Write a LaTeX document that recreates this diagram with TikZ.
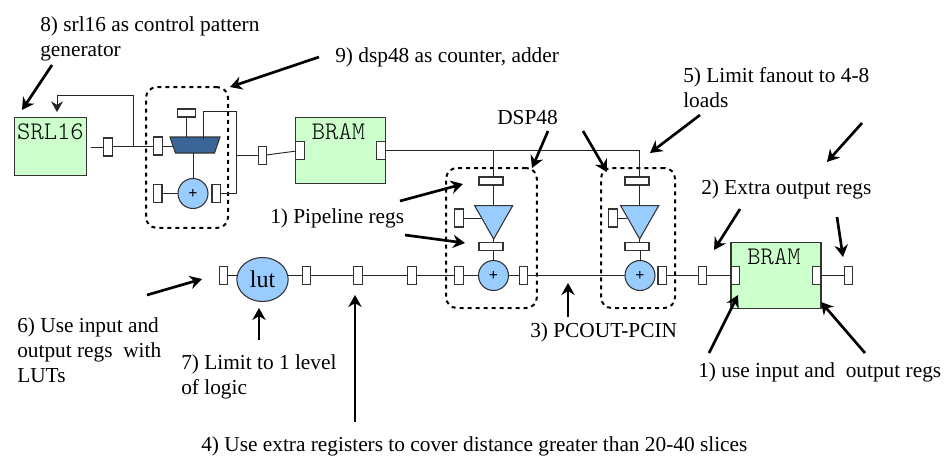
\documentclass[tikz,border=0pt]{standalone}
\usepackage{fontspec}
\setmainfont{Liberation Serif}
\usetikzlibrary{positioning,arrows.meta,shapes.geometric}
\definecolor{blockgreen}{HTML}{CCFFCC}
\definecolor{addblue}{HTML}{99CCFF}
\definecolor{muxblue}{HTML}{3B6596}
\begin{document}
\begin{tikzpicture}[x=0.75pt,y=-0.75pt,
  block/.style={draw=black!80, line width=0.8pt, fill=blockgreen, inner sep=0pt, outer sep=0pt},
  blocktext/.style={font=\ttfamily\fontseries{l}\fontsize{19}{19}\selectfont, inner sep=0pt},
  bramtext/.style={blocktext, font=\ttfamily\fontseries{l}\fontsize{19}{19}\selectfont\addfontfeature{LetterSpace=27}, xshift=-1.5pt},
  regv/.style={draw=black!80, line width=0.8pt, fill=white, inner sep=0pt, outer sep=0pt, minimum width=6.5pt, minimum height=13.5pt},
  regh/.style={draw=black!80, line width=0.8pt, fill=white, inner sep=0pt, outer sep=0pt, minimum width=18pt, minimum height=6pt},
  addr/.style={circle, draw=black!80, line width=0.8pt, fill=addblue, inner sep=0pt, outer sep=0pt, minimum size=22.5pt, font=\bfseries\fontsize{12}{12}\selectfont},
  amp/.style={isosceles triangle, isosceles triangle stretches, shape border rotate=-90, draw=black!80, line width=0.8pt, fill=addblue, inner sep=1pt, outer sep=0pt, minimum width=28.5pt, minimum height=25pt},
  dspbox/.style={draw, dashed, line width=1.5pt, rounded corners=8pt, inner sep=0pt},
  note/.style={anchor=north west, inner sep=0pt, align=left, font=\fontsize{16}{19}\selectfont},
  wire/.style={line width=0.7pt, black!85},
  arr/.style={-{Stealth[length=9pt,width=10pt]}, line width=2pt}]
\useasboundingbox (0,0) rectangle (945,455);
% top row
\node[block, minimum width=54.5pt, minimum height=44pt] (srl) at (50.5,146.5) {};
\node[blocktext, below=4.5pt of srl.north] (srltext) {SRL16};
\node[regv] (regsrl) at (108,147) {};
\node[regv] (regmuxin) at (158,146) {};
\node[regh, minimum width=14pt] (regsel) at (186.5,113) {};
\node[trapezium, trapezium stretches=true, shape border rotate=180, trapezium left angle=82, trapezium right angle=82, draw=black!80, line width=0.8pt, fill=muxblue, inner sep=1pt, outer sep=0pt, minimum width=37.5pt, minimum height=12pt] (mux) at (195,145) {};
\node[addr] (addcnt) at (193,193.5) {+};
\node[regv, left=12pt of addcnt] (regcnta) {};
\node[regv, right=3pt of addcnt] (regcntb) {};
\node[dspbox, minimum width=61.5pt, minimum height=105.5pt] (dspcnt) at (187,157.5) {};
\node[regv] (regbram) at (262.5,155.5) {};
\node[block, minimum width=67pt, minimum height=50pt] (brama) at (340.5,150.5) {};
\node[bramtext, below=4.5pt of brama.north] (bramatext) {BRAM};
\node[regv, anchor=west] (bramain) at (brama.west) {};
\node[regv, anchor=east] (bramaout) at (brama.east) {};
% first dsp48
\node[regh] (regpa) at (491,181) {};
\node[amp, below=15.5pt of regpa, xshift=2pt] (ampa) {};
\node[regv] (regca) at (459,218) {};
\node[regh, below=2.5pt of ampa.south, xshift=-2pt] (regma) {};
\node[addr] (adda) at (493.5,275.5) {+};
\node[regv, left=11.5pt of adda] (regaa) {};
\node[regv, right=8pt of adda] (regab) {};
\node[dspbox, minimum width=68pt, minimum height=105pt] (dspa) at (491.5,238) {};
% second dsp48
\node[regh] (regpb) at (637,181) {};
\node[amp, below=15.5pt of regpb, xshift=2pt] (ampb) {};
\node[regv] (regcb) at (613,218) {};
\node[regh, below=2.5pt of ampb.south, xshift=-2pt] (regmb) {};
\node[addr] (addb) at (640,275.5) {+};
\node[regv, right=2.25pt of addb] (regbb) {};
\node[dspbox, minimum width=55.5pt, minimum height=105pt] (dspb) at (638,238) {};
% bottom row
\node[regv] (reglut) at (223.5,275.5) {};
\node[ellipse, draw=black!80, line width=0.8pt, fill=addblue, inner sep=0pt, outer sep=0pt, minimum width=38.5pt, minimum height=33pt, font=\fontsize{18}{18}\selectfont] (lut) at (262.5,279.5) {lut};
\node[regv] (regrouta) at (306.5,275.5) {};
\node[regv, right=32pt of regrouta] (regroutb) {};
\node[regv, right=34pt of regroutb] (regroutc) {};
\node[regv] (regout) at (702.5,275.5) {};
\node[block, minimum width=67.5pt, minimum height=49pt] (bramb) at (776,275.5) {};
\node[bramtext, below=4.5pt of bramb.north] (brambtext) {BRAM};
\node[regv, anchor=west, yshift=0pt] (brambin) at (bramb.west) {};
\node[regv, anchor=east] (brambout) at (bramb.east) {};
\node[regv] (regend) at (848.5,275.5) {};
% wires
\coordinate (srlout) at (91,147);
\coordinate (fbk) at (133,146.5);
\coordinate (fbktop) at (57,95);
\coordinate (fbktip) at (57,112);
\coordinate (muxfb) at (203,139);
\coordinate (muxtop) at (236,111);
\coordinate (muxjoin) at (236,155.5);
\draw[wire] (srlout) -- (regsrl);
\draw[wire] (regsrl.east) -- (regsrl.east |- regmuxin) -- (regmuxin);
\draw[wire, -{Stealth[length=8pt,width=9pt]}] (fbk) |- (fbktop) -- (fbktip);
\draw[wire] (regmuxin) -- (mux.west |- regmuxin);
\draw[wire] (regsel) -- (regsel |- mux.north);
\draw[wire] (muxfb) |- (muxtop) |- (regcntb.east);
\draw[wire] (muxjoin) -- (regbram);
\draw[wire] (regbram) -- (bramain);
\draw[wire] (mux.south -| addcnt) -- (addcnt);
\draw[wire] (regcnta) -- (addcnt);
\draw[wire] (bramaout.east) -| (regpb.north -| ampb);
\draw[wire] (regpa.north -| ampa) -- (ampa |- bramaout);
\draw[wire] (regpa.south -| ampa) -- (ampa.north);
\draw[wire] (regpb.south -| ampb) -- (ampb.north);
\draw[wire] (regca.east) -- (ampa.west |- regca);
\draw[wire] (regcb.east) -- (ampb.west |- regcb);
\draw[wire] (regaa) -- (adda);
\draw[wire] (adda) -- (regab);
\draw[wire] (regma.south -| adda) -- (adda);
\draw[wire] (regmb.south -| addb) -- (addb);
\draw[wire] (ampa.south) -- (regma.north -| ampa);
\draw[wire] (ampb.south) -- (regmb.north -| ampb);
\draw[wire] (regab) -- (addb);
\draw[wire] (regbb) -- (regout);
\draw[wire] (regout) -- (brambin);
\draw[wire] (brambout) -- (regend);
\draw[wire] (reglut) -- (lut.west |- reglut);
\draw[wire] (lut.east |- regrouta) -- (regrouta);
\draw[wire] (regrouta) -- (regroutb);
\draw[wire] (regroutb) -- (regroutc);
\draw[wire] (regroutc) -- (regaa);
% labels
\node[note] (notesrl) at (40,16) {8) srl16 as control pattern\\generator};
\node[note] (notecnt) at (335,47) {9) dsp48 as counter, adder};
\node[note] (notedsp) at (497,110) {DSP48};
\node[note] (notefan) at (683,67) {5) Limit fanout to 4-8\\loads};
\node[note] (noteextra) at (701,179) {2) Extra output regs};
\node[note] (notepipe) at (270,208) {1) Pipeline regs};
\node[note] (notepc) at (530,322) {3) PCOUT-PCIN};
\node[note] (noteio) at (698,362) {1) use input and\ \ output regs};
\node[note] (notelut) at (17,317) {6) Use input and\\output regs\ \ with\\LUTs};
\node[note] (notelvl) at (181,354) {7) Limit to 1 level\\of logic};
\node[note] (notedist) at (201,436) {4) Use extra registers to cover distance greater than 20-40 slices};
% callout arrows
\coordinate (asrla) at (52,65);   \coordinate (asrlb) at (22,110);
\coordinate (acnta) at (319,57);  \coordinate (acntb) at (230,87);
\coordinate (adspa) at (548,131); \coordinate (adspb) at (532,168);
\coordinate (adspc) at (583,131); \coordinate (adspd) at (607,172);
\coordinate (afana) at (700,115); \coordinate (afanb) at (650,153);
\coordinate (afanc) at (862,123); \coordinate (afand) at (827,162);
\coordinate (aouta) at (740,209); \coordinate (aoutb) at (714,250);
\coordinate (aoutc) at (837,217); \coordinate (aoutd) at (843,257);
\coordinate (aioa) at (709,353);  \coordinate (aiob) at (738,295);
\coordinate (aioc) at (865,353);  \coordinate (aiod) at (821,302);
\coordinate (apipa) at (400,201); \coordinate (apipb) at (463,184);
\coordinate (apipc) at (405,235); \coordinate (apipd) at (465,243);
\coordinate (apca) at (568,317);  \coordinate (apcb) at (568,283);
\coordinate (aluta) at (147,295); \coordinate (alutb) at (202,279);
\coordinate (alvla) at (259,340); \coordinate (alvlb) at (259,308);
\coordinate (adista) at (355,422);\coordinate (adistb) at (355,295);
\draw[arr] (asrla) -- (asrlb);
\draw[arr] (acnta) -- (acntb);
\draw[arr] (adspa) -- (adspb);
\draw[arr] (adspc) -- (adspd);
\draw[arr] (afana) -- (afanb);
\draw[arr] (afanc) -- (afand);
\draw[arr] (aouta) -- (aoutb);
\draw[arr] (aoutc) -- (aoutd);
\draw[arr] (aioa) -- (aiob);
\draw[arr] (aioc) -- (aiod);
\draw[arr] (apipa) -- (apipb);
\draw[arr] (apipc) -- (apipd);
\draw[arr] (apca) -- (apcb);
\draw[arr] (aluta) -- (alutb);
\draw[arr] (alvla) -- (alvlb);
\draw[arr] (adista) -- (adistb);
\end{tikzpicture}
\end{document}
